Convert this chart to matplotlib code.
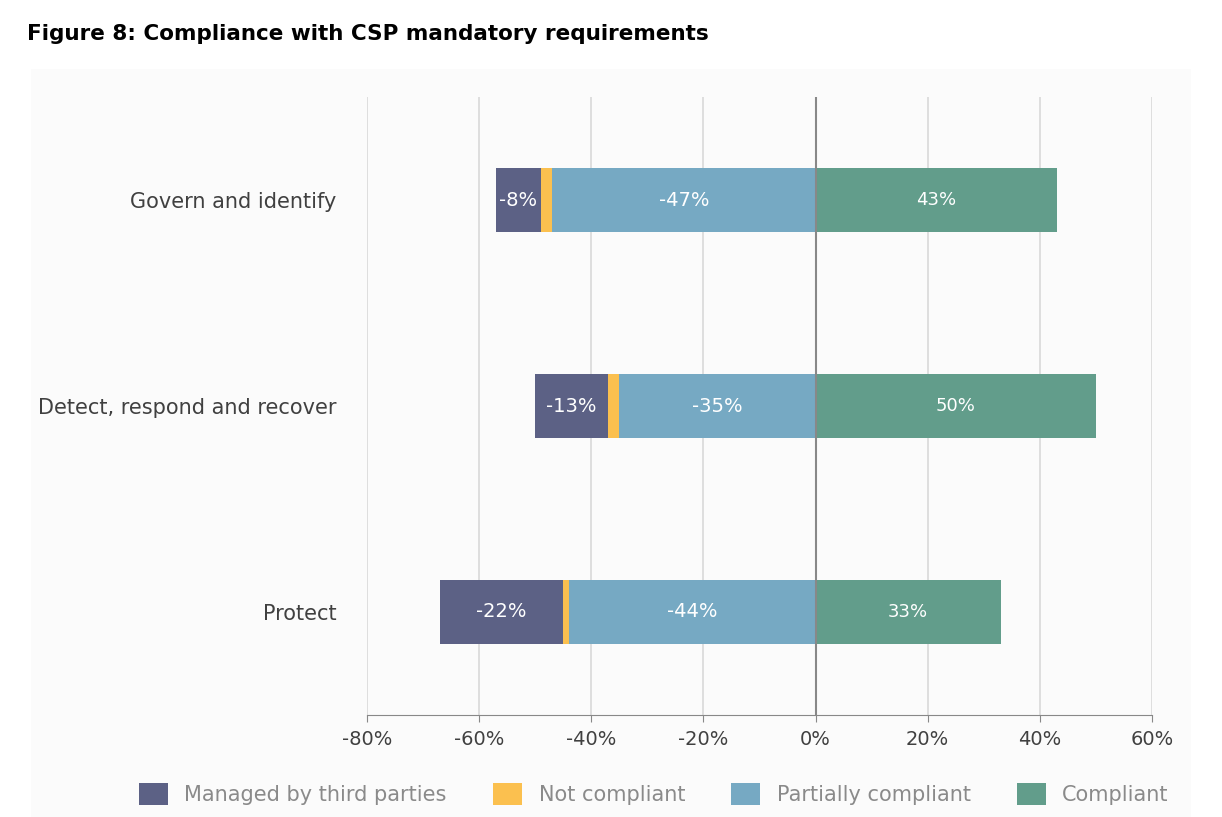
import matplotlib.pyplot as plt
import numpy as np

categories = ['Govern and identify', 'Detect, respond and recover', 'Protect']
third_parties = [-8, -13, -22]
not_compliant = [-2, -2, -1]
partially = [-47, -35, -44]
compliant = [43, 50, 33]

colors = {'third': '#5c6185', 'not': '#fbc04f', 'partial': '#76a9c3', 'comp': '#629d8b'}

fig = plt.figure(figsize=(12.22, 8.17), dpi=100)
fig.patch.set_facecolor('white')
bg = fig.add_axes([0.025, 0.0, 0.95, 0.915])
bg.set_facecolor('#fbfbfb')
bg.set_xticks([]); bg.set_yticks([])
for s in bg.spines.values():
    s.set_visible(False)
bg.set_zorder(-1)

ax = fig.add_axes([0.3003, 0.125, 0.6424, 0.756])
ax.patch.set_alpha(0)
y = np.arange(len(categories))[::-1]
h = 0.31

p = np.array(partially)
n = np.array(not_compliant)
t = np.array(third_parties)
c = np.array(compliant)
ax.barh(y, p, h, color=colors['partial'], label='Partially compliant', zorder=3)
ax.barh(y, n, h, left=p, color=colors['not'], label='Not compliant', zorder=3)
ax.barh(y, t, h, left=p + n, color=colors['third'], label='Managed by third parties', zorder=3)
ax.barh(y, c, h, color=colors['comp'], label='Compliant', zorder=3)

for yi, pi, ni, ti, ci in zip(y, p, n, t, c):
    ax.text(pi / 2, yi, f'{pi}%', color='white', ha='center', va='center', fontsize=14, zorder=4)
    ax.text(pi + ni + ti / 2, yi, f'{ti}%', color='white', ha='center', va='center', fontsize=14, zorder=4)
    ax.text(ci / 2, yi, f'{ci}%', color='white', ha='center', va='center', fontsize=13, zorder=4)

ax.set_xlim(-80, 60)
ax.set_ylim(-0.5, 2.5)
ax.set_xticks(range(-80, 61, 20))
ax.set_xticklabels([f'{v}%' for v in range(-80, 61, 20)], fontsize=14, color='#404040')
ax.set_yticks(y)
ax.set_yticklabels(categories, fontsize=15, color='#404040')
ax.tick_params(axis='y', length=0, pad=22)
ax.tick_params(axis='x', length=5, color='#888888', pad=6)
ax.grid(axis='x', color='#d9d9d9', lw=1.2, zorder=0)
ax.axvline(0, color='#888888', lw=1.5, zorder=5)
for s in ['top', 'right', 'left']:
    ax.spines[s].set_visible(False)
ax.spines['bottom'].set_color('#888888')

handles, labels = ax.get_legend_handles_labels()
order = [2, 1, 0, 3]
fig.legend([handles[i] for i in order], [labels[i] for i in order], loc='center',
           bbox_to_anchor=(0.535, 0.028), ncol=4, frameon=False, fontsize=15,
           labelcolor='#8a8a8a', handlelength=1.4, handleheight=1.2, columnspacing=2.2)

fig.text(0.022, 0.958, 'Figure 8: Compliance with CSP mandatory requirements',
         fontsize=15.5, fontweight='bold', color='black', va='center')

fig.savefig('out.png', dpi=100)
